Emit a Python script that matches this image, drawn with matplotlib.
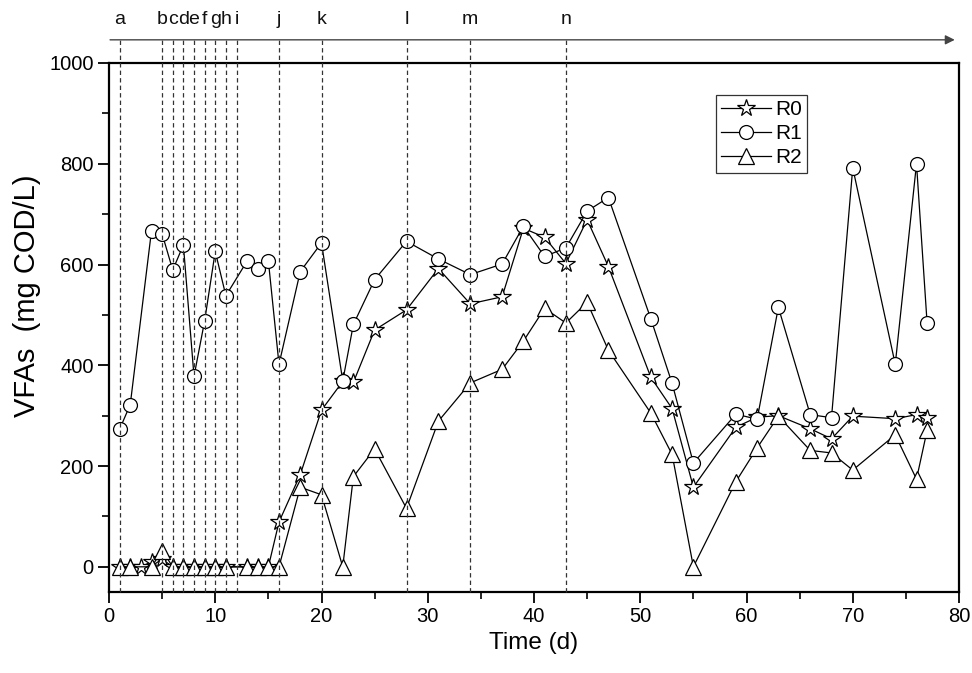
import matplotlib
matplotlib.use("Agg")
import matplotlib.pyplot as plt

plt.rcParams['font.family'] = ['Liberation Sans', 'DejaVu Sans']

# ---- data ----
r0_days = [1, 2, 3, 4, 5, 6, 7, 8, 9, 10, 11, 13, 14, 15, 16, 18, 20, 22, 23, 25, 28, 31,
           34, 37, 39, 41, 43, 45, 47, 51, 53, 55, 59, 61, 63, 66, 68, 70, 74, 76, 77]
r0_vals = [0, 0, 0, 10, 15, 0, 0, 0, 0, 0, 0, 0, 0, 0, 89, 183, 311, 368, 366, 470, 510, 592,
           522, 536, 672, 654, 602, 689, 596, 376, 314, 158, 277, 297, 300, 274, 254, 299, 294, 302, 296]

r1_days = [1, 2, 4, 5, 6, 7, 8, 9, 10, 11, 13, 14, 15, 16, 18, 20, 22, 23, 25, 28, 31,
           34, 37, 39, 41, 43, 45, 47, 51, 53, 55, 59, 61, 63, 66, 68, 70, 74, 76, 77]
r1_vals = [273, 322, 667, 661, 589, 639, 378, 488, 626, 538, 607, 592, 607, 402, 586, 643, 369, 481, 570, 646, 611,
           580, 601, 676, 616, 633, 706, 733, 492, 364, 206, 303, 293, 515, 302, 296, 792, 402, 800, 483]

r2_days = [1, 2, 4, 5, 6, 7, 8, 9, 10, 11, 13, 14, 15, 16, 18, 20, 22, 23, 25, 28, 31,
           34, 37, 39, 41, 43, 45, 47, 51, 53, 55, 59, 61, 63, 66, 68, 70, 74, 76, 77]
r2_vals = [0, 0, 0, 32, 0, 0, 0, 0, 0, 0, 0, 0, 0, 0, 158, 143, 0, 179, 234, 116, 289,
           365, 392, 448, 513, 484, 525, 430, 305, 223, 0, 169, 236, 299, 231, 226, 192, 262, 174, 271]

phase_days = [1, 5, 6, 7, 8, 9, 10, 11, 12, 16, 20, 28, 34, 43]
phase_labels = ['a', 'b', 'c', 'd', 'e', 'f', 'g', 'h', 'i', 'j', 'k', 'l', 'm', 'n']

x_ticks = [0, 10, 20, 30, 40, 50, 60, 70, 80]
y_ticks = [0, 200, 400, 600, 800, 1000]

# ---- figure ----
fig = plt.figure(figsize=(9.72, 6.73), dpi=100)
ax = fig.add_axes([109/972, 1-592/673, 850/972, 529/673])

ax.set_xlim(0, 80)
ax.set_ylim(-50, 1000)

arrow_y = 1046
label_y = 1086

for d, lab in zip(phase_days, phase_labels):
    ax.plot([d, d], [-50, arrow_y], ls=(0, (3.5, 2.5)), color='#333333', lw=0.9,
            zorder=5, clip_on=False)
    ax.text(d, label_y, lab, ha='center', va='center', fontsize=14, color='#111111')

ax.annotate('', xy=(79.6, arrow_y), xytext=(0.1, arrow_y), xycoords='data',
            arrowprops=dict(arrowstyle='-|>', color='#444444', lw=1.0,
                            mutation_scale=14, shrinkA=0, shrinkB=0),
            annotation_clip=False)

common = dict(color='black', lw=0.9, markerfacecolor='white',
              markeredgecolor='black', markeredgewidth=0.9)
ax.plot(r0_days, r0_vals, marker='*', markersize=13, label='R0', zorder=3, **common)
ax.plot(r1_days, r1_vals, marker='o', markersize=10, label='R1', zorder=3.1, **common)
ax.plot(r2_days, r2_vals, marker='^', markersize=12, label='R2', zorder=3.2, **common)

ax.set_xticks(x_ticks)
ax.set_xticks(range(5, 80, 10), minor=True)
ax.set_yticks(y_ticks)
ax.set_yticks(range(100, 1000, 200), minor=True)
ax.tick_params(which='major', direction='out', length=8, width=1.3, labelsize=14.5,
               top=False, right=False, pad=3)
ax.tick_params(which='minor', direction='out', length=5, width=1.2, top=False, right=False)
for s in ax.spines.values():
    s.set_linewidth(1.6)

ax.set_xlabel('Time (d)', fontsize=17.5, labelpad=4)
ax.set_ylabel('VFAs  (mg COD/L)', fontsize=21, labelpad=6)
ax.yaxis.set_label_coords(-0.08, 0.56)

leg = ax.legend(loc='upper left', bbox_to_anchor=(0.714, 0.94), fontsize=15,
                frameon=True, fancybox=False, edgecolor='black', handlelength=2.4,
                handletextpad=0.2, borderpad=0.25, labelspacing=0.25, borderaxespad=0)
leg.get_frame().set_linewidth(0.9)

fig.savefig('out.png', dpi=100)
